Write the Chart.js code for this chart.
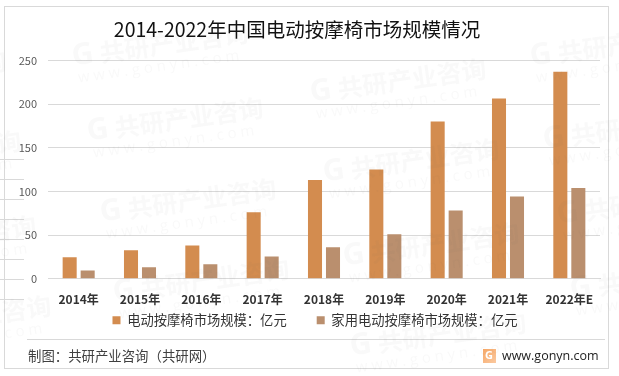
<!DOCTYPE html>
<html lang="zh">
<head>
  <meta charset="UTF-8">
  <title>2014-2022年中国电动按摩椅市场规模情况</title>
  <style>
    body { margin: 0; background: white; }
    #wrap { position: relative; width: 619px; height: 376px; }
  </style>
  <script src="https://cdn.jsdelivr.net/npm/chart.js"></script>
</head>
<body>
  <div id="wrap"><canvas id="c" width="619" height="376"></canvas></div>
  <script>
    const categories = ['2014年', '2015年', '2016年', '2017年', '2018年', '2019年', '2020年', '2021年', '2022年E'];
    const massageChair = [24.5, 32.5, 38, 76, 113, 125, 180, 206.5, 237];
    const homeMassageChair = [9.5, 13, 16.5, 25.5, 36, 51, 78, 94, 104];
    const yTicks = [0, 50, 100, 150, 200, 250];

    const titleText = '2014-2022年中国电动按摩椅市场规模情况';
    const seriesNames = ['电动按摩椅市场规模：亿元', '家用电动按摩椅市场规模：亿元'];
    const footerLeft = '制图：共研产业咨询（共研网）';
    const footerRight = 'www.gonyn.com';
    const cjk = '"Noto Sans CJK SC", sans-serif';

    // faint repeated watermark, start point of each stamp
    const stamps = [[72, 57], [87, 132], [100, 213], [113, 293], [310, 93], [323, 173], [343, 257], [350, 347],
      [530, 57], [543, 140], [557, 215], [570, 290], [-170, 85], [-155, 165], [-140, 250], [-125, 330]];
    // short stray lines left of the frame
    const stubYs = [159, 179, 199, 219, 239, 259, 279, 299];

    // frame, footer line, logo and watermark sit outside what Chart.js draws
    const decor = {
      id: 'decor',
      afterLayout(chart) {
        // title and legend are not centred on the plot in the original
        chart.titleBlock.left -= 3;
        chart.titleBlock.right -= 3;
        chart.legend.left += 15;
        chart.legend.right += 15;
        chart.legend.top -= 25;
        chart.legend.bottom -= 25;
      },
      beforeDraw(chart) {
        const c = chart.ctx;
        c.save();
        c.strokeStyle = '#d9d9d9';
        c.lineWidth = 1;
        c.strokeRect(4.5, 6.5, 604, 362);
        c.beginPath();
        c.moveTo(27, 339.5);
        c.lineTo(605, 339.5);
        stubYs.forEach(y => {
          c.moveTo(0, y + 0.5);
          c.lineTo(24, y + 0.5);
        });
        c.stroke();
        c.fillStyle = '#404040';
        c.font = '13.4px ' + cjk;
        c.textBaseline = 'middle';
        c.fillText(footerLeft, 28, 356);
        c.fillStyle = '#222';
        c.font = '12.5px "Open Sans", sans-serif';
        c.fillText(footerRight, 502, 356);
        const g = c.createLinearGradient(483, 349, 496, 363);
        g.addColorStop(0, '#f6a765');
        g.addColorStop(1, '#fbc9a0');
        c.fillStyle = g;
        c.fillRect(483, 349, 13, 14);
        c.fillStyle = 'white';
        c.font = 'bold 11px "Open Sans", sans-serif';
        c.fillText('G', 485, 356);
        c.restore();
      },
      afterDraw(chart) {
        const c = chart.ctx;
        c.save();
        c.fillStyle = 'rgba(90, 90, 90, 0.04)';
        c.textBaseline = 'middle';
        stamps.forEach(([x, y]) => {
          c.save();
          c.translate(x, y);
          c.rotate(-8 * Math.PI / 180);
          c.font = 'bold 30px "Open Sans", sans-serif';
          c.fillText('G', 0, 0);
          c.font = 'bold 25px ' + cjk;
          c.fillText('共研产业咨询', 28, 0);
          c.font = '15px "Open Sans", sans-serif';
          c.fillText('w w w . g o n y n . c o m', 3, 22);
          c.restore();
        });
        c.restore();
      }
    };

    new Chart(document.getElementById('c'), {
      type: 'bar',
      data: {
        labels: categories,
        datasets: [
          { label: seriesNames[0], data: massageChair, backgroundColor: '#d38c4f' },
          { label: seriesNames[1], data: homeMassageChair, backgroundColor: '#ba8f6e' }
        ]
      },
      options: {
        responsive: false,
        animation: false,
        categoryPercentage: 0.587,
        barPercentage: 0.78,
        layout: { padding: { left: 0, right: 19, top: 18, bottom: 14 } },
        scales: {
          x: {
            afterFit(axis) { axis.height = 30; },
            grid: { display: false },
            border: { color: '#d9d9d9' },
            ticks: { color: '#333', padding: 6, maxRotation: 0, autoSkip: false, font: { family: cjk, size: 12, weight: 'bold' } }
          },
          y: {
            min: 0,
            max: 250,
            afterBuildTicks(axis) { axis.ticks = yTicks.map(v => ({ value: v })); },
            afterFit(axis) { axis.width = 48; },
            grid: { color: '#d9d9d9', drawTicks: false },
            border: { display: false },
            ticks: { color: '#595959', padding: 11, font: { family: cjk, size: 11 } }
          }
        },
        plugins: {
          title: { display: true, text: titleText, color: '#111', padding: { top: 0, bottom: 19 }, font: { family: cjk, size: 19.5, weight: 'normal' } },
          legend: {
            position: 'bottom',
            labels: { boxWidth: 8, boxHeight: 8, padding: 30, color: '#333', font: { family: cjk, size: 13.3 } }
          },
          tooltip: { enabled: false }
        }
      },
      plugins: [decor]
    });
  </script>
</body>
</html>
